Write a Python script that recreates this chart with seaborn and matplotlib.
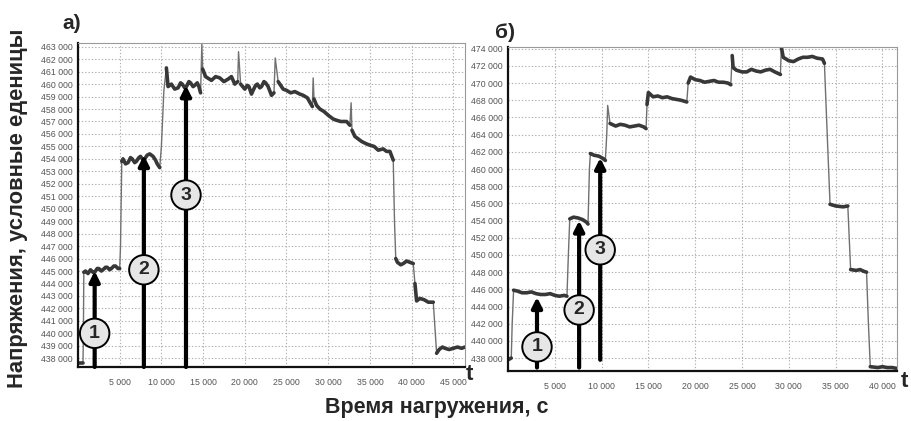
import numpy as np
import pandas as pd
import matplotlib
matplotlib.use('Agg')
import matplotlib.pyplot as plt
import matplotlib.ticker as mticker
import seaborn as sns

# ---- panel a) : time (s) and signal (thousands of units) ----
t_a = [0, 600, 650, 700, 900, 1200, 1500, 1800, 2000, 2300, 2500, 2800, 3000,
       3300, 3500, 3800, 4000, 4300, 4500, 4800, 5000,
       5100, 5250, 5400, 5700, 6000, 6300, 6500, 6800, 7000, 7300, 7500, 7800,
       8000, 8300, 8600, 9000, 9300, 9500, 9800,
       10000, 10300, 10600, 10800, 11200, 11600, 12000, 12300, 12500, 12800,
       13000, 13300, 13500, 13800, 14000, 14300,
       14500, 14700, 14850, 14950, 15300, 16000, 16500, 17000, 17500, 18000,
       18400, 18800, 19150,
       19250, 19500, 20000, 20300, 20500, 20800, 21000, 21300, 21500, 21800,
       22000, 22300, 22500, 22800, 23200, 23500,
       23650, 24000, 24600, 25000, 25500, 26000, 26600, 27000, 27500, 28100,
       28200, 28300, 28600,
       29000, 29500, 30000, 30600, 31000, 31500, 32200, 32600, 32750, 32850,
       33200, 33600, 34000,
       34600, 35000, 35500, 36000, 36600, 37000, 37400, 37800, 37950, 38100,
       38300, 38700, 39000, 39400, 39800,
       40200, 40400, 40600, 41000, 41500, 42000, 42600, 42800, 43000, 43300,
       43700, 44000, 44500, 45000, 45500, 46000, 46400]
v_a = [437.6, 437.6, 440.0, 444.9, 445.0, 444.8, 445.1, 444.9, 444.9, 445.2,
       445.2, 445.0, 445.1, 445.3, 445.3, 445.1, 445.2, 445.4, 445.4, 445.2,
       445.2,
       447.0, 453.8, 454.0, 453.6, 453.7, 454.1, 454.0, 453.7, 453.8, 454.1,
       454.2, 453.9, 454.0, 454.3, 454.4, 454.2, 453.9, 453.6, 453.3,
       455.0, 459.5, 461.3, 459.8, 460.0, 459.6, 459.7, 460.1, 460.0, 459.7,
       459.8, 460.2, 460.1, 459.8, 459.9, 460.1,
       459.8, 459.3, 463.2, 461.2, 460.6, 460.3, 460.6, 460.5, 460.2, 460.4,
       460.6, 460.0, 460.2,
       462.6, 460.0, 459.6, 459.9, 459.8, 459.2, 459.5, 459.9, 460.0, 459.7,
       459.8, 460.2, 460.1, 459.8, 459.1, 459.3,
       462.1, 460.2, 459.6, 459.5, 459.3, 459.4, 459.2, 459.1, 458.9, 458.2,
       460.5, 458.8, 458.3,
       458.0, 457.8, 457.5, 457.2, 457.1, 457.0, 457.0, 456.7, 458.5, 456.3,
       455.8, 455.6, 455.4,
       455.2, 455.1, 455.0, 454.7, 454.8, 454.6, 454.6, 453.9, 449.0, 446.0,
       445.7, 445.5, 445.6, 445.8, 445.7,
       445.6, 444.0, 442.6, 442.8, 442.7, 442.5, 442.5, 440.5, 438.4, 438.7,
       438.9, 438.8, 438.7, 438.8, 438.9, 438.8, 438.9]

# ---- panel б) ----
t_b = [0, 350, 450, 600, 1000, 1500, 2000, 2500, 3000, 3500, 4000, 4500, 5000,
       5500, 6000, 6300, 6450, 6600,
       7000, 7500, 8000, 8400, 8550, 8700, 8800, 9200, 9700, 10200, 10400,
       10550, 10650, 10900, 11500, 12000, 12500, 13000, 13500, 14000, 14500,
       14750, 14850, 15000,
       15500, 16000, 16500, 17000, 17500, 18000, 18500, 19100, 19250, 19500,
       20000, 20500, 21000, 21500, 22000, 22500, 23000, 23500, 23800, 23950,
       24050, 24400,
       25000, 25500, 26000, 26500, 27000, 27500, 28000, 28500, 29100, 29200,
       29400, 30000, 30500, 31000, 31500, 32000, 32500, 33000, 33600, 33800,
       34100, 34400,
       35000, 35800, 36300, 36450, 36600, 37200, 37600, 38000, 38300, 38500,
       38700, 39500, 40000, 40500, 41000, 41550]
v_b = [437.8, 438.0, 442.0, 445.9, 445.8, 445.6, 445.6, 445.7, 445.5, 445.4,
       445.4, 445.5, 445.3, 445.2, 445.3, 445.2, 450.0, 454.2,
       454.4, 454.3, 454.1, 453.8, 453.6, 460.0, 461.8, 461.6, 461.5, 461.2,
       461.0,
       464.0, 467.4, 465.3, 465.0, 465.2, 465.1, 464.9, 465.0, 465.1, 464.9,
       464.7, 467.5, 468.9,
       468.4, 468.5, 468.3, 468.4, 468.2, 468.1, 468.0, 467.8, 470.0, 470.7,
       470.4, 470.3, 470.1, 470.2, 470.3, 470.1, 470.1, 470.0, 469.8, 473.2,
       471.8, 471.5,
       471.3, 471.3, 471.6, 471.4, 471.3, 471.5, 471.6, 471.3, 471.0, 474.2,
       473.0, 472.6, 472.5, 472.8, 473.0, 473.0, 473.1, 472.9, 472.8, 472.3,
       464.0, 455.9,
       455.7, 455.6, 455.7, 452.0, 448.3, 448.2, 448.3, 448.1, 448.0, 442.0,
       437.0, 436.9, 437.0, 436.9, 436.9, 436.8]

# arrows: x position, start, tip, circle centre, number
arrows_a = [(2000, 437.3, 445.0, 440.0, '1'),
            (7900, 437.3, 454.3, 445.1, '2'),
            (12950, 437.3, 459.9, 451.1, '3')]
arrows_b = [(3100, 436.9, 445.1, 439.3, '1'),
            (7600, 436.9, 454.0, 443.6, '2'),
            (9850, 437.8, 461.3, 450.6, '3')]

sns.set_style('white')
plt.rcParams['font.family'] = ['Liberation Sans', 'DejaVu Sans']

fig = plt.figure(figsize=(9.11, 4.21), dpi=100)
ax1 = fig.add_axes([0.0856, 0.1283, 0.4248, 0.7696])
ax2 = fig.add_axes([0.5576, 0.1188, 0.4270, 0.7696])


def draw_panel(ax, t, v, arrows, xlim, ylim, ystep):
    df = pd.DataFrame({'t': t, 'v': v})
    # big jumps drawn thin and light, plateaus thick and dark
    jump = df['v'].diff().abs().fillna(0) > 1.5
    df['seg'] = jump.cumsum()
    sns.lineplot(data=df, x='t', y='v', ax=ax, color='#707070', lw=1.0,
                 sort=False, estimator=None)
    sns.lineplot(data=df, x='t', y='v', units='seg', ax=ax, color='#383838',
                 lw=2.6, sort=False, estimator=None)
    ax.set_xlim(*xlim)
    ax.set_ylim(*ylim)
    ax.set_xlabel('')
    ax.set_ylabel('')
    ax.xaxis.set_major_locator(mticker.MultipleLocator(5000))
    ax.xaxis.set_minor_locator(mticker.MultipleLocator(1000))
    ax.yaxis.set_major_locator(mticker.MultipleLocator(ystep))
    ax.xaxis.set_major_formatter(mticker.FuncFormatter(
        lambda x, p: '' if x == 0 else f'{int(x) // 1000} 000'))
    ax.yaxis.set_major_formatter(mticker.FuncFormatter(
        lambda y, p: f'{int(round(y))} 000'))
    ax.tick_params(axis='both', which='major', labelsize=6.3, labelcolor='#555555',
                   length=2, width=0.6, color='#555555', pad=2)
    ax.tick_params(axis='x', which='minor', length=2, width=0.5, color='#555555')
    ax.tick_params(axis='x', which='major', pad=6)
    ax.grid(True, which='major', color='#b0b0b0', lw=0.8, ls=(0, (1.2, 1.8)))
    for side in ['top', 'right']:
        ax.spines[side].set_color('#9a9a9a')
        ax.spines[side].set_linewidth(0.8)
    for side in ['left', 'bottom']:
        ax.spines[side].set_color('#111111')
        ax.spines[side].set_linewidth(1.6)
    for x, y0, y1, yc, lab in arrows:
        ax.annotate('', xy=(x, y1), xytext=(x, y0),
                    arrowprops=dict(arrowstyle='-|>', lw=3, color='black',
                                    mutation_scale=15, shrinkA=0, shrinkB=0))
        ax.text(x, yc, lab, ha='center', va='center', fontsize=14,
                fontweight='bold',
                bbox=dict(boxstyle='circle,pad=0.32', fc='#e6e6e6',
                          ec='black', lw=1.4))


draw_panel(ax1, t_a, v_a, arrows_a, (0, 46400), (437.3, 463.3), 1)
draw_panel(ax2, t_b, v_b, arrows_b, (0, 41550), (436.5, 474.2), 2)

fig.text(0.068, 0.945, 'а)', fontsize=15, fontweight='bold', ha='left', va='center')
fig.text(0.543, 0.922, 'б)', fontsize=15, fontweight='bold', ha='left', va='center')
fig.text(0.019, 0.505, 'Напряжения, условные еденицы', rotation=90, fontsize=15.8,
         fontweight='bold', ha='center', va='center')
fig.text(0.479, 0.031, 'Время нагружения, с', fontsize=15.5, fontweight='bold',
         ha='center', va='center')
fig.text(0.5115, 0.11, 't', fontsize=16, fontweight='bold', ha='left', va='center')
fig.text(0.989, 0.095, 't', fontsize=16, fontweight='bold', ha='left', va='center')

fig.savefig('out.png', dpi=100)
